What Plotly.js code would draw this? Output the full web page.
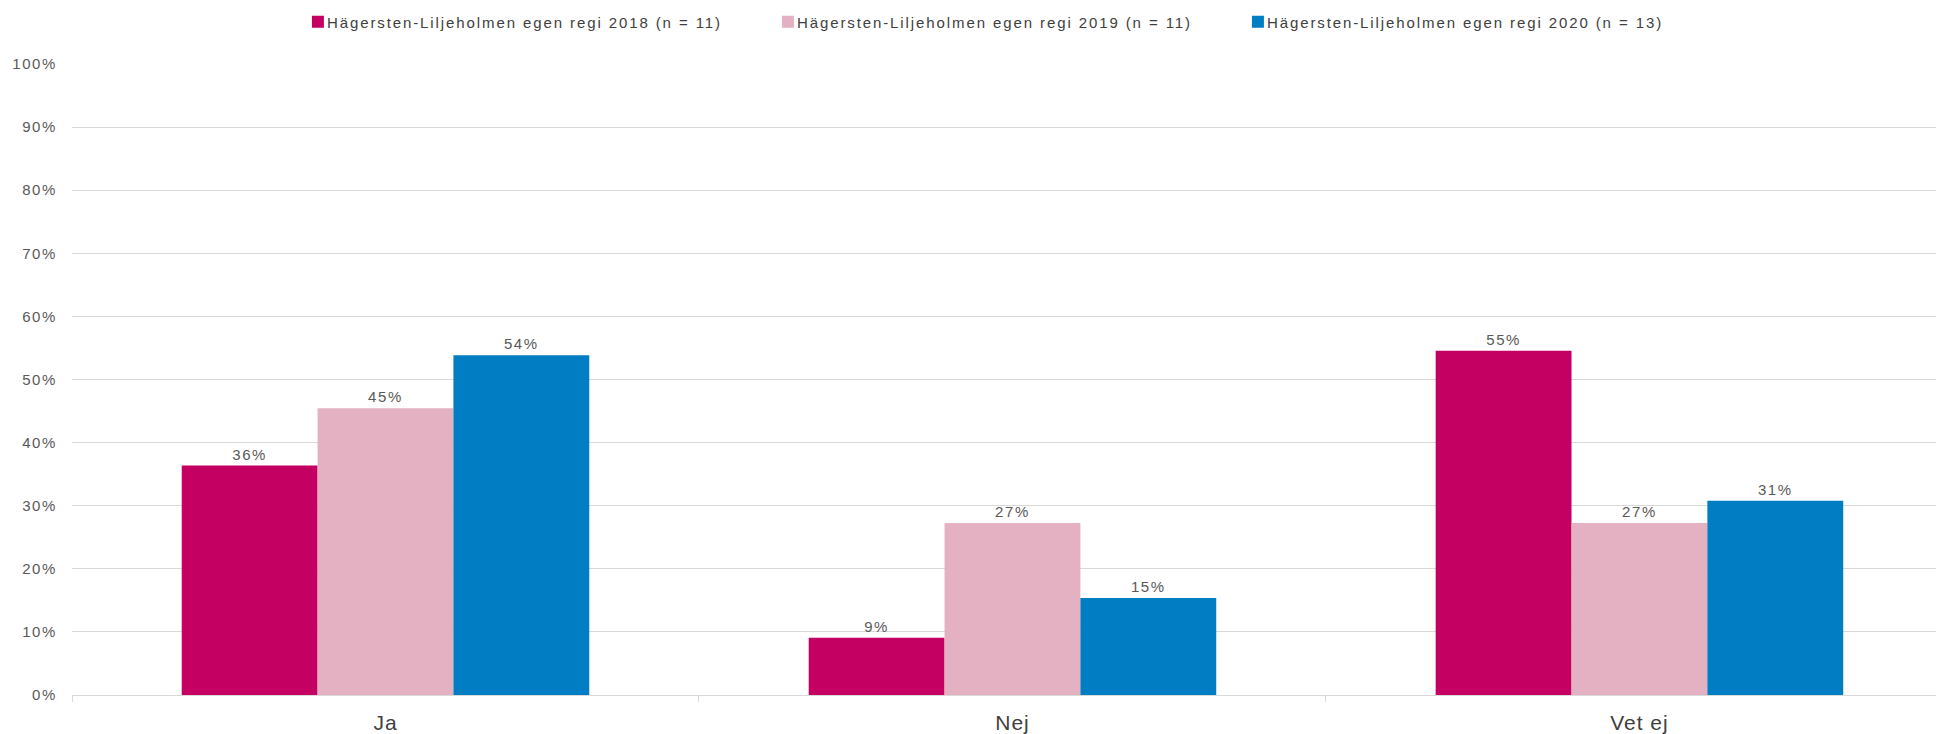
<!DOCTYPE html>
<html>
<head>
<meta charset="utf-8">
<script src="https://cdn.plot.ly/plotly-3.0.1.min.js"></script>
<style>
  body { margin: 0; background: #fff; }
  #plot { width: 1936px; height: 734px; }
  /* the reference text is a bit tracked out */
  #plot .ytick text, #plot .bartext { letter-spacing: 1.6px; }
  #plot .xtick text { letter-spacing: 1px; }
  /* legend text sits right next to its square in the reference */
  #plot .legendtext { letter-spacing: 1.9px; transform: translateX(-11px); }
</style>
</head>
<body>
<div id="plot"></div>
<script>
// Answer categories and share per year (percent)
const categories = ['Ja', 'Nej', 'Vet ej'];
const seriesNames = [
    'Hägersten-Liljeholmen egen regi 2018 (n = 11)',
    'Hägersten-Liljeholmen egen regi 2019 (n = 11)',
    'Hägersten-Liljeholmen egen regi 2020 (n = 13)'
];
const values2018 = [36.36, 9.09, 54.55];
const values2019 = [45.45, 27.27, 27.27];
const values2020 = [53.85, 15.38, 30.77];
const colors = ['#C40062', '#E3B1C1', '#007DC3'];
const yTicks = [0, 10, 20, 30, 40, 50, 60, 70, 80, 90, 100];

const allValues = [values2018, values2019, values2020];

const traces = allValues.map((vals, i) => ({
    type: 'bar',
    name: seriesNames[i],
    x: categories,
    y: vals,
    text: vals.map(v => Math.round(v) + '%'),
    textposition: 'outside',
    cliponaxis: false,
    textfont: { family: 'Liberation Sans, Arial, sans-serif', size: 15, color: '#595959' },
    marker: { color: colors[i] },
    hoverinfo: 'skip'
}));

const layout = {
    width: 1936,
    height: 734,
    margin: { l: 72, r: 0, t: 64, b: 39 },
    paper_bgcolor: '#fff',
    plot_bgcolor: '#fff',
    barmode: 'group',
    bargap: 0.35,
    bargroupgap: 0,
    font: { family: 'Liberation Sans, Arial, sans-serif', color: '#595959' },
    showlegend: true,
    legend: {
        orientation: 'h',
        x: 0.1212,
        xanchor: 'left',
        y: 1.0666,
        yanchor: 'middle',
        entrywidth: 425,
        entrywidthmode: 'pixels',
        itemwidth: 30,
        font: { size: 15, color: '#404040' }
    },
    xaxis: {
        type: 'category',
        range: [-0.5, 2.473],
        tickfont: { size: 21, color: '#404040' },
        showline: true,
        linecolor: '#d9d9d9',
        linewidth: 1,
        ticks: 'outside',
        tickson: 'boundaries',
        ticklen: 6,
        tickcolor: '#d9d9d9',
        showgrid: false,
        ticklabelstandoff: 9
    },
    yaxis: {
        range: [0, 100],
        tickvals: yTicks,
        ticktext: yTicks.map(v => v + '%'),
        tickfont: { size: 15, color: '#595959' },
        showgrid: true,
        gridcolor: '#d9d9d9',
        gridwidth: 1,
        zeroline: false,
        ticks: '',
        ticklabelstandoff: 14
    }
};

Plotly.newPlot('plot', traces, layout, { displayModeBar: false, staticPlot: true });
</script>
</body>
</html>
